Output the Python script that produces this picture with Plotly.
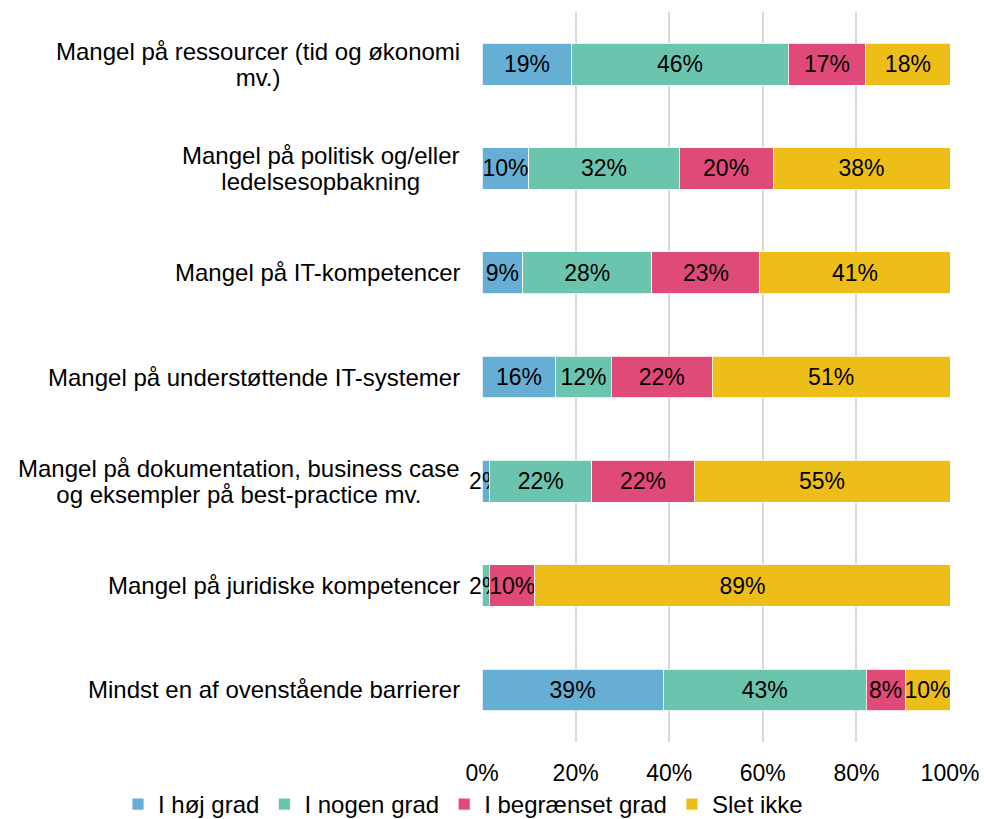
import plotly.graph_objects as go

categories = [
    "Mangel på ressourcer (tid og økonomi<br>mv.)",
    "Mangel på politisk og/eller<br>ledelsesopbakning",
    "Mangel på IT-kompetencer",
    "Mangel på understøttende IT-systemer",
    "Mangel på dokumentation, business case<br>og eksempler på best-practice mv.",
    "Mangel på juridiske kompetencer",
    "Mindst en af ovenstående barrierer",
]
series_names = ["I høj grad", "I nogen grad", "I begrænset grad", "Slet ikke"]
hoej = [19.2, 10.0, 8.7, 15.8, 1.6, 0.0, 38.7]
nogen = [46.2, 32.1, 27.6, 11.8, 21.9, 1.6, 43.4]
begraenset = [16.6, 20.1, 23.1, 21.6, 21.8, 9.7, 8.3]
slet_ikke = [18.0, 37.8, 40.6, 50.8, 54.7, 88.7, 9.6]
colors = ["#66AED4", "#6BC4AE", "#E04A78", "#EDBE17"]
x_ticks = [0, 20, 40, 60, 80, 100]

FONT = "Liberation Sans, Arial, sans-serif"
FS = 23
FS_CAT = 24

W, H = 984, 819
ML, MR, MT, MB = 482, 34, 12, 77
PW = W - ML - MR
PH = H - MT - MB

fig = go.Figure()
for name, vals, col in zip(series_names, [hoej, nogen, begraenset, slet_ikke], colors):
    fig.add_trace(go.Bar(
        y=categories, x=vals, name=name, orientation="h",
        marker=dict(color=col, line=dict(color="white", width=0.8)),
        text=[f"{round(v)}%" if v > 0 else "" for v in vals],
        textposition="inside", insidetextanchor="middle", textangle=0,
        textfont=dict(color="black", size=FS, family=FONT),
        cliponaxis=False,
    ))

for c in categories:
    lines = c.split("<br>")
    txt = "<br>".join(f"<span style='font-size:{FS_CAT}px'>{ln}</span>" for ln in lines)
    fig.add_annotation(
        x=-20 / PW, xref="paper", y=c, yref="y", text=txt, showarrow=False,
        xanchor="right", yanchor="middle", align="center",
        font=dict(size=20, color="black", family=FONT),
    )

fig.update_layout(
    barmode="stack", bargap=0.6,
    width=W, height=H,
    margin=dict(l=ML, r=MR, t=MT, b=MB, autoexpand=False),
    paper_bgcolor="white", plot_bgcolor="white",
    font=dict(family=FONT, size=FS, color="black"),
    uniformtext=dict(minsize=FS, mode="show"),
    showlegend=True,
    legend=dict(orientation="h", xref="paper", yref="paper",
                x=(118 - ML) / PW, xanchor="left",
                y=-40 / PH, yanchor="top",
                bgcolor="rgba(0,0,0,0)",
                font=dict(size=FS_CAT, family=FONT, color="black"),
                traceorder="normal", itemwidth=30),
    xaxis=dict(range=[0, 100], tickvals=x_ticks,
               ticktext=[f"{t}%" for t in x_ticks],
               showgrid=True, gridcolor="#D9D9D9", gridwidth=1.5,
               zeroline=False, showline=False, automargin=False,
               ticks="outside", ticklen=10, tickcolor="rgba(0,0,0,0)",
               tickfont=dict(size=FS, family=FONT, color="black")),
    yaxis=dict(autorange="reversed", showticklabels=False, showgrid=False,
               zeroline=False, showline=False, automargin=False),
)

fig.write_html("out.html", config={"displayModeBar": False},
               post_script="document.body.style.margin='0';")
